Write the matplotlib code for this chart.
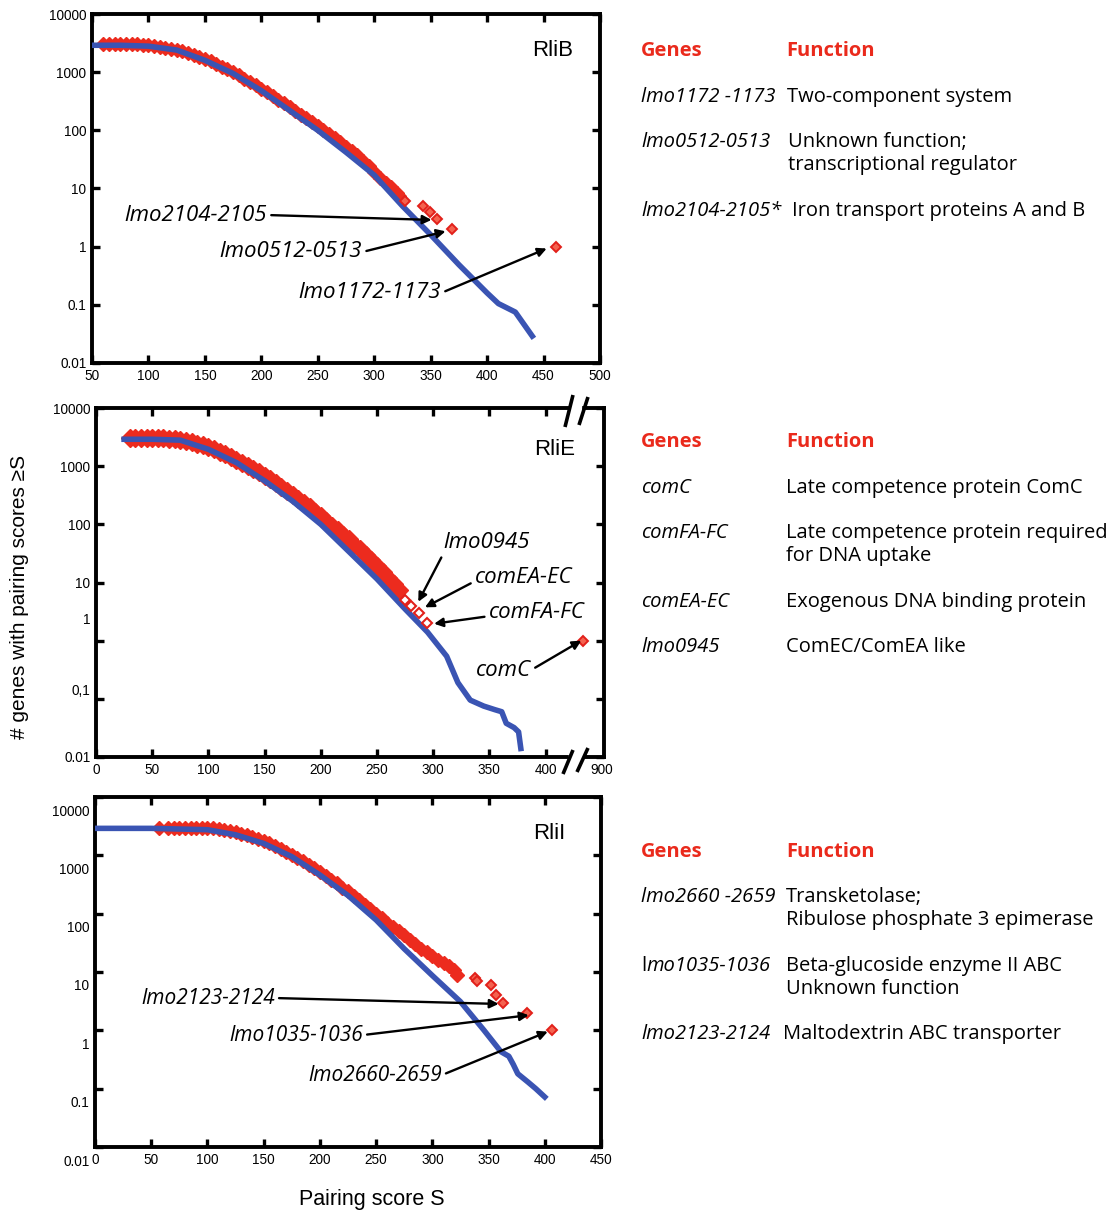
import matplotlib
matplotlib.use('Agg')
import matplotlib.pyplot as plt
from matplotlib.ticker import NullLocator
from matplotlib.transforms import ScaledTranslation
from matplotlib.lines import Line2D
from matplotlib.patches import Rectangle

plt.rcParams['font.family'] = ['Liberation Sans', 'DejaVu Sans']

# ---------------- data ----------------
# RliB
rlib_blue_x = [50, 75, 100, 125, 150, 175, 200, 225, 250, 275, 300, 325, 350, 375, 400, 410, 425, 440]
rlib_blue_y = [2900, 2900, 2800, 2400, 1600, 950, 480, 220, 100, 42, 17, 5.0, 1.6, 0.49, 0.16, 0.105, 0.075, 0.029]
rlib_red_x = [60, 65, 70, 75, 80, 85, 90, 95, 100, 105, 110, 115, 120, 125, 130, 135, 140, 145,
              150, 155, 160, 165, 170, 175, 180, 185, 190, 195, 200, 205, 210, 215, 220, 225,
              230, 235, 240, 245, 250, 255, 260, 265, 270, 275, 280, 285, 290, 295, 300, 305,
              310, 315, 320, 322]
rlib_red_y = [3000, 3000, 3000, 3000, 3000, 3000, 3000, 2950, 2900, 2850, 2750, 2650, 2550, 2450,
              2300, 2150, 2000, 1850, 1700, 1550, 1400, 1250, 1120, 1000, 880, 770, 680, 590,
              520, 450, 390, 335, 290, 250, 215, 185, 160, 138, 118, 100, 86, 74, 62, 52, 44,
              37, 30, 24, 19, 15, 12.5, 10.5, 8.5, 7.5]
rlib_top_x = [327, 343, 349, 355.6, 369, 461]
rlib_top_y = [6, 5, 4, 3, 2, 1]

# RliE
rlie_blue_x = [25, 50, 75, 100, 125, 150, 175, 200, 225, 250, 275, 295, 312, 322, 333, 345, 355,
               361, 365, 372, 376, 378]
rlie_blue_y = [2900, 2900, 2800, 1950, 1150, 560, 250, 100, 34, 11.5, 3.5, 1.4, 0.54, 0.19, 0.095,
               0.075, 0.065, 0.06, 0.038, 0.032, 0.027, 0.014]
rlie_red_x = [30, 35, 40, 45, 50, 55, 60, 65, 70, 75, 80, 85, 90, 95, 100, 105, 110, 115, 120,
              125, 130, 135, 140, 145, 150, 155, 160, 165, 170, 175, 180, 185, 190, 195, 200,
              205, 210, 215, 220, 225, 230, 235, 240, 245, 250, 255, 260, 265, 270]
rlie_red_y = [3000, 3000, 3000, 3000, 3000, 3000, 3000, 2950, 2900, 2850, 2750, 2600, 2450, 2300,
              2150, 1950, 1780, 1600, 1430, 1280, 1130, 1000, 880, 780, 690, 600, 520, 445, 380,
              325, 275, 230, 195, 163, 137, 114, 95, 79, 66, 55, 45, 37, 30, 24, 19, 15, 12,
              9.5, 7.5]
rlie_open_x = [274.7, 280.6, 287.4, 294.5]
rlie_open_y = [5, 4, 3, 2]
rlie_comc_x = [883]
rlie_comc_y = [1]

# RliI
rlii_blue_x = [0, 50, 100, 125, 150, 175, 200, 225, 250, 275, 300, 325, 346, 361, 368, 372, 376,
               385, 392, 400]
rlii_blue_y = [2900, 2900, 2750, 2250, 1600, 950, 460, 205, 78, 25, 8.7, 3.1, 1.0, 0.43, 0.36,
               0.26, 0.18, 0.13, 0.1, 0.072]
rlii_red_x = [57, 65, 70, 75, 80, 85, 90, 95, 100, 105, 110, 115, 120, 125, 130, 135, 140, 145,
              150, 155, 160, 165, 170, 175, 180, 185, 190, 195, 200, 205, 210, 215, 220, 225,
              230, 235, 240, 245, 250, 255, 260, 265, 270, 275, 280, 285, 290, 295, 300, 305,
              310, 315, 319, 322]
rlii_red_y = [3000, 3000, 3000, 3000, 3000, 3000, 3000, 3000, 2950, 2900, 2850, 2750, 2650, 2500,
              2350, 2200, 2050, 1900, 1750, 1600, 1450, 1300, 1150, 1020, 900, 790, 690, 600,
              520, 450, 385, 330, 280, 240, 200, 170, 142, 120, 100, 84, 70, 59, 50, 43, 36,
              30, 25, 22, 19, 16, 14, 12.5, 11, 9]
rlii_top_x = [338, 340, 352, 356.4, 363, 384, 406]
rlii_top_y = [8, 7, 6, 4, 3, 2, 1]

y_ticks = [1e4, 1e3, 100, 10, 1, 0.1, 0.01]
y_labels_dot = ['10000', '1000', '100', '10', '1', '0.1', '0.01']
y_labels_e = ['10000', '1000', '100', '10', '1', '0,1', '0.01']

# table texts
table_b = [("lmo1172 -1173", ["Two-component system"], 97, 787),
           ("lmo0512-0513", ["Unknown function;", "transcriptional regulator"], 142, 788),
           ("lmo2104-2105*", ["Iron transport proteins A and B"], 211, 792)]
table_e = [("comC", ["Late competence protein ComC"], 488, 786),
           ("comFA-FC", ["Late competence protein required", "for DNA uptake"], 533, 786),
           ("comEA-EC", ["Exogenous DNA binding protein"], 602, 786),
           ("lmo0945", ["ComEC/ComEA like"], 647, 786)]
table_i = [("lmo2660 -2659", ["Transketolase;", "Ribulose phosphate 3 epimerase"], 897, 786),
           ("lmo1035-1036", ["Beta-glucoside enzyme II ABC", "Unknown function"], 966, 786),
           ("lmo2123-2124", ["Maltodextrin ABC transporter"], 1034, 783)]

# ---------------- figure ----------------
W, H = 1114, 1213
fig = plt.figure(figsize=(W / 100, H / 100), dpi=100)

RED = '#ec2b1e'
RED_EDGE = '#e2201a'
RED_FACE = '#f4624f'
BLUE = '#3a54b3'
TXT = 'Open Sans'


def px_axes(l, r, t, b):
    return [l / W, 1 - b / H, (r - l) / W, (b - t) / H]


def style(ax, xlim, xticks, xlabels, ylabels):
    ax.set_yscale('log')
    ax.set_xlim(*xlim)
    ax.set_ylim(0.01, 10000)
    ax.set_xticks(xticks)
    ax.set_xticklabels(xlabels)
    ax.set_yticks(y_ticks)
    ax.set_yticklabels(ylabels)
    ax.yaxis.set_minor_locator(NullLocator())
    ax.xaxis.set_minor_locator(NullLocator())
    for s in ax.spines.values():
        s.set_linewidth(2.8)
    ax.tick_params(which='major', direction='in', length=6, width=2.4,
                   top=True, right=True, labelsize=9.8, pad=4)


def broken_x(vals):
    return [v - 450 if v > 800 else v for v in vals]


arrow = dict(arrowstyle='-|>', color='black', lw=1.7, mutation_scale=13,
             shrinkA=1, shrinkB=1)


def note(ax, text, xy, xytext, relpos, size=16):
    a = dict(arrow)
    a['relpos'] = relpos
    ax.annotate(text, xy=xy, xytext=xytext, textcoords='data', xycoords='data',
                ha='center', va='center', fontsize=size, style='italic',
                family=TXT, arrowprops=a, zorder=6)


# ---- RliB ----
ax1 = fig.add_axes(px_axes(92, 600, 14, 363))
ax1.plot(rlib_red_x, rlib_red_y, 'D', ms=7.5, color=RED, mec=RED, zorder=2)
ax1.plot(rlib_blue_x, rlib_blue_y, '-', color=BLUE, lw=4, zorder=3)
ax1.plot(rlib_top_x, rlib_top_y, 'D', ms=4.8, mfc=RED_FACE, mec=RED_EDGE, mew=1.4, zorder=4)
style(ax1, (50, 500), [50, 100, 150, 200, 250, 300, 350, 400, 450, 500],
      ['50', '100', '150', '200', '250', '300', '350', '400', '450', '500'], y_labels_dot)
ax1.text(0.907, 0.894, 'RliB', transform=ax1.transAxes, ha='center', va='center', fontsize=16)
note(ax1, 'lmo2104-2105', (352, 2.88), (142, 3.5), (1, 0.5))
note(ax1, 'lmo0512-0513', (364.4, 1.86), (226.3, 0.81), (1, 0.5))
note(ax1, 'lmo1172-1173', (453.9, 0.95), (296.2, 0.16), (1, 0.5))

# ---- RliE ----
ax2 = fig.add_axes(px_axes(96, 604, 408, 757))
ax2.plot(rlie_red_x, rlie_red_y, 'D', ms=8.8, color=RED, mec=RED, zorder=2)
ax2.plot(rlie_blue_x, rlie_blue_y, '-', color=BLUE, lw=4, zorder=3)
ax2.plot(rlie_open_x, rlie_open_y, 'D', ms=4.8, mfc='white', mec=RED_EDGE, mew=1.5, zorder=4)
ax2.plot(broken_x(rlie_comc_x), rlie_comc_y, 'D', ms=4.8, mfc=RED_FACE, mec=RED_EDGE,
         mew=1.4, zorder=4, clip_on=False)
style(ax2, (0, 452), [0, 50, 100, 150, 200, 250, 300, 350, 400, 450],
      ['0', '50', '100', '150', '200', '250', '300', '350', '400', '900'], y_labels_e)
ax2.xaxis.get_major_ticks()[-1].tick1line.set_visible(False)
ax2.xaxis.get_major_ticks()[-1].tick2line.set_visible(False)
yl = ax2.get_yticklabels()
yl[4].set_transform(yl[4].get_transform() + ScaledTranslation(0, 0.22, fig.dpi_scale_trans))
yl[5].set_transform(yl[5].get_transform() + ScaledTranslation(0, 0.09, fig.dpi_scale_trans))
ax2.text(0.902, 0.880, 'RliE', transform=ax2.transAxes, ha='center', va='center', fontsize=16)
note(ax2, 'lmo0945', (286.2, 4.44), (347.6, 47.8), (0.0, 0.0))
note(ax2, 'comEA-EC', (291.6, 3.65), (380.4, 12.4), (0.0, 0.3))
note(ax2, 'comFA-FC', (299.6, 1.94), (392, 3.11), (0.0, 0.3))
note(ax2, 'comC', (432.9, 1.03), (362.7, 0.313), (1.0, 0.5))


# axis-break marks
def fx(p):
    return p / W


def fy(p):
    return 1 - p / H


for (x0, x1, yspine) in [(570, 581, 408), (569, 582, 757)]:
    fig.patches.append(Rectangle((fx(x0), fy(yspine + 5)), fx(x1) - fx(x0), 10 / H,
                                 transform=fig.transFigure, color='white', zorder=10))
for seg in [((565, 427), (573, 395)), ((579, 425), (588, 397)),
            ((563, 774), (573, 750)), ((577, 772), (588, 748))]:
    (a, b), (c, d) = seg
    fig.lines.append(Line2D([fx(a), fx(c)], [fy(b), fy(d)], transform=fig.transFigure,
                            color='black', lw=2.6, zorder=11, solid_capstyle='butt'))

# ---- RliI ----
ax3 = fig.add_axes(px_axes(95, 601, 797, 1147))
ax3.plot(rlii_red_x, rlii_red_y, 'D', ms=7.5, color=RED, mec=RED, zorder=2)
ax3.plot(rlii_blue_x, rlii_blue_y, '-', color=BLUE, lw=4, zorder=3)
ax3.plot(rlii_top_x, rlii_top_y, 'D', ms=4.8, mfc=RED_FACE, mec=RED_EDGE, mew=1.4, zorder=4)
style(ax3, (0, 450), [0, 50, 100, 150, 200, 250, 300, 350, 400, 450],
      ['0', '50', '100', '150', '200', '250', '300', '350', '400', '450'], y_labels_dot)
for lab in ax3.get_yticklabels():
    lab.set_transform(lab.get_transform() + ScaledTranslation(0, -0.13, fig.dpi_scale_trans))
ax3.text(0.897, 0.897, 'RliI', transform=ax3.transAxes, ha='center', va='center', fontsize=16)
note(ax3, 'lmo2123-2124', (360.2, 2.83), (100.5, 3.58), (1, 0.5), size=15)
note(ax3, 'lmo1035-1036', (386.9, 1.83), (178.8, 0.83), (1, 0.5), size=15)
note(ax3, 'lmo2660-2659', (403.8, 0.97), (249, 0.171), (1, 0.5), size=15)

# axis titles
fig.text(fx(20), fy(597), '# genes with pairing scores \u2265S', rotation=90,
         ha='center', va='center', fontsize=15)
fig.text(fx(372), fy(1200), 'Pairing score S', ha='center', va='center', fontsize=15.5)


# ---- tables ----
def table(header_y, rows):
    fs = 14.5
    fig.text(fx(641), fy(header_y), 'Genes', color='#ea2a1c', fontsize=14.5, weight='bold',
             family=TXT, va='center', ha='left')
    fig.text(fx(786), fy(header_y), 'Function', color='#ea2a1c', fontsize=14.5, weight='bold',
             family=TXT, va='center', ha='left')
    for gene, funcs, y, xf in rows:
        if gene == 'lmo1035-1036':
            fig.text(fx(641), fy(y), 'l', fontsize=fs, family=TXT, va='center', ha='left')
            fig.text(fx(646), fy(y), gene[1:], fontsize=fs, family=TXT, style='italic',
                     va='center', ha='left')
        else:
            fig.text(fx(641), fy(y), gene, fontsize=fs, family=TXT, style='italic',
                     va='center', ha='left')
        for i, f in enumerate(funcs):
            fig.text(fx(xf), fy(y + 23 * i), f, fontsize=fs, family=TXT, va='center', ha='left')


table(51, table_b)
table(442, table_e)
table(852, table_i)

fig.savefig('out.png', dpi=100)
